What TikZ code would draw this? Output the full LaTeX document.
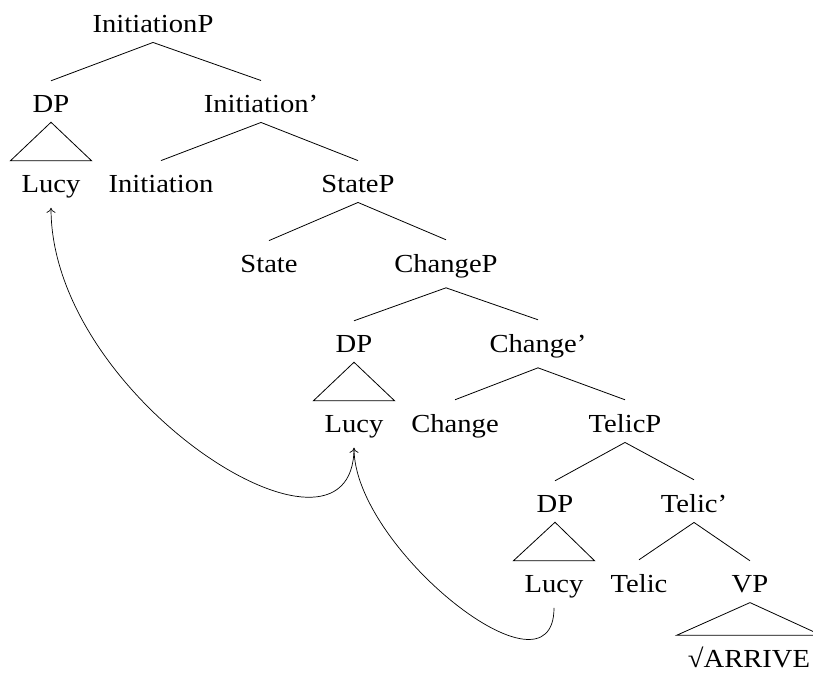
\documentclass[tikz,border=0pt]{standalone}
\usepackage{fontspec}
\usetikzlibrary{arrows.meta}
\setmainfont[FakeStretch=1.1]{Liberation Serif}
\begin{document}
\begin{tikzpicture}[x=1pt,y=-1pt,
  lab/.style={anchor=base,inner sep=0pt,font=\fontsize{26pt}{30pt}\selectfont},
  branch/.style={line width=0.8pt},
  move/.style={-{To[length=5pt,width=9pt]},line width=0.7pt}]
\useasboundingbox (0,0) rectangle (813,672);
% nodes
\node[lab] (ip)    at (153,32)  {InitiationP};
\node[lab] (dp1)   at (51,112)  {DP};
\node[lab] (ib)    at (261,112) {Initiation’};
\node[lab] (lucy1) at (51,192)  {Lucy};
\node[lab] (init)  at (161,192) {Initiation};
\node[lab] (sp)    at (358,192) {StateP};
\node[lab] (st)    at (269,272) {State};
\node[lab] (cp)    at (446,272) {ChangeP};
\node[lab] (dp2)   at (354,352) {DP};
\node[lab] (cb)    at (538,352) {Change’};
\node[lab] (lucy2) at (354,432) {Lucy};
\node[lab] (ch)    at (455,432) {Change};
\node[lab] (tp)    at (625,432) {TelicP};
\node[lab] (dp3)   at (555,512) {DP};
\node[lab] (tb)    at (694,512) {Telic’};
\node[lab] (lucy3) at (554,592) {Lucy};
\node[lab] (tel)   at (639,592) {Telic};
\node[lab] (vp)    at (750,592) {VP};
\node[lab] (arr)   at (749,667) {√ARRIVE};
% branches
\foreach \p/\c in {ip/dp1,ip/ib,ib/init,ib/sp,sp/st,sp/cp,cp/dp2,cp/cb,cb/ch,cb/tp,tp/dp3,tp/tb,tb/tel,tb/vp}
  \draw[branch] ([yshift=-10pt]\p.south) -- ([yshift=14pt]\c.north);
% triangles
\foreach \p/\c in {dp1/lucy1,dp2/lucy2,dp3/lucy3}
  \draw[branch] ([yshift=-10pt]\p.south) -- ([xshift=-11pt,yshift=14pt]\c.north west)
     -- ([xshift=11pt,yshift=14pt]\c.north east) -- cycle;
\draw[branch] ([yshift=-10pt]vp.south) -- ([xshift=-11pt,yshift=11pt]arr.north west)
     -- ([xshift=11pt,yshift=11pt]arr.north east) -- cycle;
% movement arrows
\draw[move] ([yshift=-10pt]lucy2.south) .. controls +(0,142) and +(0,192) .. ([yshift=-10pt]lucy1.south);
\draw[move] ([yshift=-10pt]lucy3.south) .. controls +(0,100) and +(0,100) .. ([yshift=-10pt]lucy2.south);
\end{tikzpicture}
\end{document}
